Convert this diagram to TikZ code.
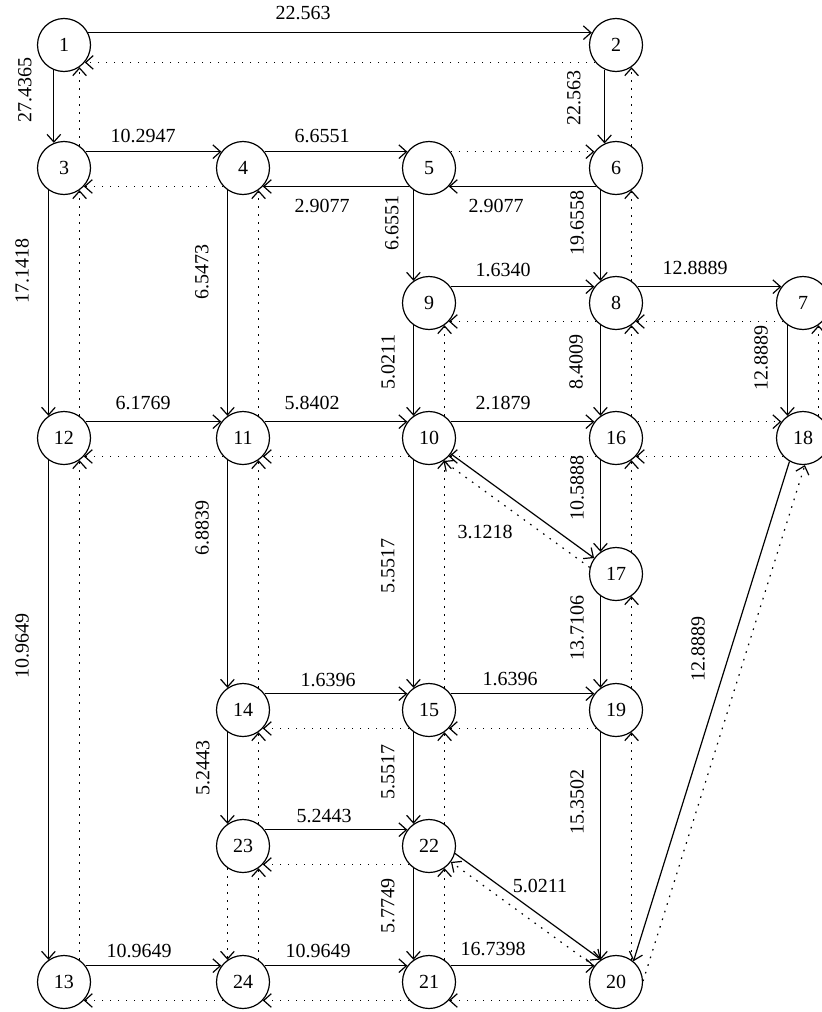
\documentclass[tikz,border=0pt]{standalone}
\usepackage{fontspec}
\setmainfont{Liberation Serif}
\usepackage{tikz}
\usetikzlibrary{arrows.meta}

\begin{document}
\begin{tikzpicture}[x=0.5pt,y=-0.5pt,line width=0.6pt,>={Straight Barb[length=3.8pt,width=6.8pt]}]
\tikzstyle{vertex}=[circle,draw,minimum size=26.5pt,inner sep=0pt]
\tikzstyle{flow}=[->]
\tikzstyle{back}=[->,dash pattern=on 0.8pt off 3.2pt]
\tikzstyle{weight}=[rectangle,inner sep=1pt]
\tikzstyle{vweight}=[weight,rotate=90]
\useasboundingbox (0,0) rectangle (822,1012);
\node [vertex] (n1) at (64,45) {1};
\node [vertex] (n2) at (616,45) {2};
\node [vertex] (n3) at (64,168) {3};
\node [vertex] (n4) at (243,168) {4};
\node [vertex] (n5) at (429,168) {5};
\node [vertex] (n6) at (616,168) {6};
\node [vertex] (n9) at (429,303) {9};
\node [vertex] (n8) at (616,303) {8};
\node [vertex] (n7) at (803,303) {7};
\node [vertex] (n12) at (64,438) {12};
\node [vertex] (n11) at (243,438) {11};
\node [vertex] (n10) at (429,438) {10};
\node [vertex] (n16) at (616,438) {16};
\node [vertex] (n18) at (803,438) {18};
\node [vertex] (n17) at (616,574) {17};
\node [vertex] (n14) at (243,710) {14};
\node [vertex] (n15) at (429,710) {15};
\node [vertex] (n19) at (616,710) {19};
\node [vertex] (n23) at (243,846) {23};
\node [vertex] (n22) at (429,846) {22};
\node [vertex] (n13) at (64,982) {13};
\node [vertex] (n24) at (243,982) {24};
\node [vertex] (n21) at (429,982) {21};
\node [vertex] (n20) at (616,982) {20};
% top rows
\draw [flow] (n1.27) -- (n2.153);
\draw [back] (n2.220) -- (n1.-40);
\draw [flow] (n1.248) -- (n3.112);
\draw [back] (n3.55) -- (n1.-55);
\draw [flow] (n2.245) -- (n6.115);
\draw [back] (n6.55) -- (n2.-55);
\draw [flow] (n3.37) -- (n4.143);
\draw [back] (n4.223) -- (n3.-43);
\draw [flow] (n4.37) -- (n5.143);
\draw [flow] (n5.223) -- (n4.-43);
\draw [back] (n5.37) -- (n6.143);
\draw [flow] (n6.223) -- (n5.-43);
\draw [flow] (n3.235) -- (n12.125);
\draw [back] (n12.55) -- (n3.-55);
\draw [flow] (n4.235) -- (n11.125);
\draw [back] (n11.55) -- (n4.-55);
\draw [flow] (n5.235) -- (n9.125);
\draw [flow] (n6.235) -- (n8.125);
\draw [back] (n8.55) -- (n6.-55);
\draw [flow] (n9.37) -- (n8.143);
\draw [back] (n8.223) -- (n9.-43);
\draw [flow] (n8.37) -- (n7.143);
\draw [back] (n7.223) -- (n8.-43);
\draw [flow] (n9.235) -- (n10.125);
\draw [back] (n10.55) -- (n9.-55);
\draw [flow] (n8.235) -- (n16.125);
\draw [back] (n16.55) -- (n8.-55);
\draw [flow] (n7.235) -- (n18.125);
\draw [back] (n18.55) -- (n7.-55);
% middle
\draw [flow] (n12.37) -- (n11.143);
\draw [back] (n11.223) -- (n12.-43);
\draw [flow] (n11.37) -- (n10.143);
\draw [back] (n10.223) -- (n11.-43);
\draw [flow] (n10.37) -- (n16.143);
\draw [back] (n16.223) -- (n10.-43);
\draw [back] (n16.37) -- (n18.143);
\draw [back] (n18.223) -- (n16.-43);
\draw [flow] (n10.-36) -- (n17.144);
\draw [back] (n17.166) -- (n10.-58);
\draw [flow] (n12.235) -- (n13.125);
\draw [back] (n13.55) -- (n12.-55);
\draw [flow] (n11.235) -- (n14.125);
\draw [back] (n14.55) -- (n11.-55);
\draw [flow] (n10.235) -- (n15.125);
\draw [back] (n15.55) -- (n10.-55);
\draw [flow] (n16.235) -- (n17.125);
\draw [back] (n17.55) -- (n16.-55);
\draw [flow] (n17.235) -- (n19.125);
\draw [back] (n19.55) -- (n17.-55);
\draw [flow] (n18.240) -- (n20.50);
\draw [back] (n20.2) -- (n18.-86);
% bottom rows
\draw [flow] (n14.37) -- (n15.143);
\draw [back] (n15.223) -- (n14.-43);
\draw [flow] (n15.37) -- (n19.143);
\draw [back] (n19.223) -- (n15.-43);
\draw [flow] (n14.235) -- (n23.125);
\draw [back] (n23.55) -- (n14.-55);
\draw [flow] (n15.235) -- (n22.125);
\draw [back] (n22.55) -- (n15.-55);
\draw [flow] (n19.235) -- (n20.125);
\draw [back] (n20.55) -- (n19.-55);
\draw [flow] (n23.37) -- (n22.143);
\draw [back] (n22.223) -- (n23.-43);
\draw [back] (n23.235) -- (n24.125);
\draw [back] (n24.55) -- (n23.-55);
\draw [flow] (n22.235) -- (n21.125);
\draw [back] (n21.55) -- (n22.-55);
\draw [flow] (n22.-16) -- (n20.124);
\draw [back] (n20.144) -- (n22.-36);
\draw [flow] (n13.37) -- (n24.143);
\draw [back] (n24.223) -- (n13.-43);
\draw [flow] (n24.37) -- (n21.143);
\draw [back] (n21.223) -- (n24.-43);
\draw [flow] (n21.37) -- (n20.143);
\draw [back] (n20.223) -- (n21.-43);
% weights
\node [weight] (w1t2) at (303,13) {22.563};
\node [vweight] (w1t3) at (25,90) {27.4365};
\node [vweight] (w2t6) at (574,98) {22.563};
\node [weight] (w3t4) at (143,136) {10.2947};
\node [weight] (w4t5) at (322,136) {6.6551};
\node [weight] (w5t4) at (322,206) {2.9077};
\node [weight] (w6t5) at (496,206) {2.9077};
\node [vweight] (w5t9) at (392,223) {6.6551};
\node [vweight] (w6t8) at (577,223) {19.6558};
\node [vweight] (w3t12) at (22,271) {17.1418};
\node [vweight] (w4t11) at (202,272) {6.5473};
\node [weight] (w9t8) at (503,270) {1.6340};
\node [weight] (w8t7) at (695,268) {12.8889};
\node [vweight] (w9t10) at (388,362) {5.0211};
\node [vweight] (w8t16) at (576,362) {8.4009};
\node [vweight] (w7t18) at (761,358) {12.8889};
\node [weight] (w12t11) at (143,403) {6.1769};
\node [weight] (w11t10) at (312,403) {5.8402};
\node [weight] (w10t16) at (503,403) {2.1879};
\node [vweight] (w16t17) at (577,488) {10.5888};
\node [weight] (w10t17) at (485,532) {3.1218};
\node [vweight] (w11t14) at (202,528) {6.8839};
\node [vweight] (w10t15) at (388,566) {5.5517};
\node [vweight] (w17t19) at (577,628) {13.7106};
\node [vweight] (w12t13) at (22,646) {10.9649};
\node [vweight] (w18t20) at (698,649) {12.8889};
\node [weight] (w14t15) at (328,680) {1.6396};
\node [weight] (w15t19) at (510,679) {1.6396};
\node [vweight] (w14t23) at (203,768) {5.2443};
\node [vweight] (w15t22) at (388,772) {5.5517};
\node [vweight] (w19t20) at (577,802) {15.3502};
\node [weight] (w23t22) at (324,816) {5.2443};
\node [weight] (w22t20) at (540,886) {5.0211};
\node [vweight] (w22t21) at (388,906) {5.7749};
\node [weight] (w13t24) at (139,951) {10.9649};
\node [weight] (w24t21) at (318,951) {10.9649};
\node [weight] (w21t20) at (493,949) {16.7398};
\end{tikzpicture}
\end{document}
